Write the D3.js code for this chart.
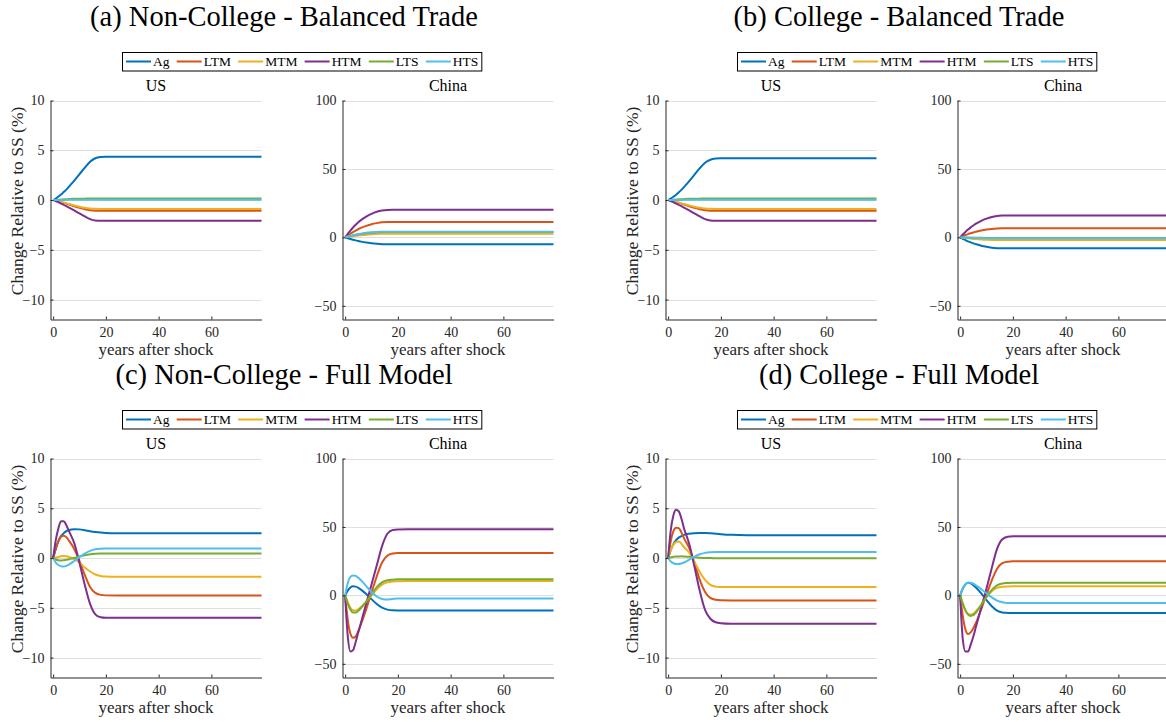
<!DOCTYPE html>
<html>
<head>
<meta charset="utf-8">
<script src="https://cdn.jsdelivr.net/npm/d3@7"></script>
<style>
body { margin: 0; background: #fff; }
text { font-family: "Liberation Serif", "Times New Roman", serif; }
</style>
</head>
<body>
<script>
var width = 1166,
    height = 722;

var years = [0, 1, 2, 3, 4, 5, 6, 8, 10, 12, 14, 16, 18, 20, 24, 30, 79];
var sectors = ['Ag', 'LTM', 'MTM', 'HTM', 'LTS', 'HTS'];
var colors = ['#0072BD', '#D95319', '#EDB120', '#7E2F8E', '#77AC30', '#4DBEEE'];
var panelTitles = ['(a) Non-College - Balanced Trade', '(b) College - Balanced Trade',
                   '(c) Non-College - Full Model', '(d) College - Full Model'];
var countries = ['US', 'China'];
var usTicks = [-10, -5, 0, 5, 10];
var chinaTicks = [-50, 0, 50, 100];
var xTicks = [0, 20, 40, 60];

// one row per sector: Ag, LTM, MTM, HTM, LTS, HTS
var ncBalancedUS = [
  [0, 0.15, 0.35, 0.55, 0.8, 1.05, 1.35, 1.95, 2.6, 3.25, 3.85, 4.2, 4.32, 4.35, 4.36, 4.36, 4.36],
  [0, -0.05, -0.12, -0.2, -0.28, -0.36, -0.45, -0.62, -0.78, -0.92, -1.02, -1.07, -1.08, -1.08, -1.08, -1.08, -1.08],
  [0, -0.05, -0.11, -0.18, -0.25, -0.32, -0.4, -0.54, -0.67, -0.78, -0.85, -0.88, -0.89, -0.89, -0.89, -0.89, -0.89],
  [0, -0.1, -0.22, -0.35, -0.48, -0.62, -0.76, -1.05, -1.35, -1.65, -1.92, -2.06, -2.08, -2.08, -2.08, -2.08, -2.08],
  [0, 0.01, 0.03, 0.05, 0.07, 0.08, 0.1, 0.12, 0.13, 0.14, 0.15, 0.15, 0.15, 0.15, 0.15, 0.15, 0.15],
  [0, 0, 0.01, 0.01, 0.01, 0.02, 0.02, 0.02, 0.02, 0.02, 0.02, 0.02, 0.02, 0.02, 0.02, 0.02, 0.02]
];
var ncBalancedChina = [
  [0, -0.6, -1.2, -1.7, -2.2, -2.7, -3.1, -3.8, -4.3, -4.7, -5.0, -5.1, -5.1, -5.1, -5.1, -5.1, -5.1],
  [0, 1.4, 2.7, 3.9, 5.0, 6.0, 6.9, 8.4, 9.6, 10.4, 11.0, 11.2, 11.2, 11.2, 11.2, 11.2, 11.2],
  [0, 0.3, 0.6, 0.9, 1.1, 1.4, 1.6, 2.0, 2.3, 2.5, 2.7, 2.7, 2.7, 2.7, 2.7, 2.7, 2.7],
  [0, 2.6, 5.0, 7.2, 9.2, 11.0, 12.6, 15.2, 17.2, 18.7, 19.6, 20.0, 20.1, 20.1, 20.1, 20.1, 20.1],
  [0, 0.5, 1.0, 1.4, 1.8, 2.2, 2.5, 3.0, 3.4, 3.7, 3.8, 3.9, 3.9, 3.9, 3.9, 3.9, 3.9],
  [0, 0.6, 1.1, 1.6, 2.0, 2.4, 2.7, 3.3, 3.7, 4.0, 4.1, 4.2, 4.2, 4.2, 4.2, 4.2, 4.2]
];
var cBalancedUS = [
  [0, 0.14, 0.33, 0.53, 0.77, 1.02, 1.3, 1.9, 2.55, 3.2, 3.75, 4.05, 4.17, 4.2, 4.2, 4.2, 4.2],
  [0, -0.05, -0.12, -0.2, -0.28, -0.36, -0.45, -0.62, -0.78, -0.92, -1.02, -1.07, -1.08, -1.08, -1.08, -1.08, -1.08],
  [0, -0.05, -0.11, -0.18, -0.25, -0.32, -0.4, -0.54, -0.67, -0.78, -0.85, -0.88, -0.89, -0.89, -0.89, -0.89, -0.89],
  [0, -0.1, -0.22, -0.35, -0.48, -0.62, -0.76, -1.05, -1.35, -1.65, -1.92, -2.05, -2.07, -2.07, -2.07, -2.07, -2.07],
  [0, 0.01, 0.03, 0.05, 0.07, 0.08, 0.1, 0.12, 0.13, 0.14, 0.15, 0.15, 0.15, 0.15, 0.15, 0.15, 0.15],
  [0, 0, 0, 0.01, 0.01, 0.01, 0.02, 0.02, 0.02, 0.02, 0.02, 0.02, 0.02, 0.02, 0.02, 0.02, 0.02]
];
var cBalancedChina = [
  [0, -1.0, -2.0, -2.9, -3.7, -4.4, -5.0, -6.1, -6.9, -7.5, -7.9, -8.0, -8.0, -8.0, -8.0, -8.0, -8.0],
  [0, 0.9, 1.7, 2.4, 3.0, 3.6, 4.1, 5.0, 5.7, 6.2, 6.5, 6.6, 6.6, 6.6, 6.6, 6.6, 6.6],
  [0, -0.3, -0.5, -0.7, -0.9, -1.1, -1.2, -1.5, -1.7, -1.85, -1.95, -2.0, -2.0, -2.0, -2.0, -2.0, -2.0],
  [0, 2.1, 4.0, 5.7, 7.3, 8.7, 10.0, 12.1, 13.7, 14.9, 15.6, 15.9, 16.0, 16.0, 16.0, 16.0, 16.0],
  [0, -0.05, -0.1, -0.15, -0.2, -0.25, -0.3, -0.35, -0.4, -0.45, -0.5, -0.5, -0.5, -0.5, -0.5, -0.5, -0.5],
  [0, -0.1, -0.2, -0.25, -0.3, -0.35, -0.4, -0.5, -0.55, -0.6, -0.65, -0.7, -0.7, -0.7, -0.7, -0.7, -0.7]
];
var ncFullUS = [
  [0, 0.9, 1.7, 2.2, 2.5, 2.7, 2.82, 2.9, 2.88, 2.8, 2.7, 2.62, 2.56, 2.52, 2.49, 2.48, 2.48],
  [0, 1.0, 1.7, 2.15, 2.25, 2.1, 1.75, 0.9, -0.3, -1.7, -2.9, -3.5, -3.7, -3.75, -3.76, -3.76, -3.76],
  [0, 0.05, 0.12, 0.18, 0.2, 0.17, 0.1, -0.1, -0.45, -0.95, -1.35, -1.65, -1.8, -1.86, -1.88, -1.88, -1.88],
  [0, 1.8, 3.0, 3.7, 3.7, 3.3, 2.7, 1.5, -0.5, -2.7, -4.6, -5.65, -5.95, -6.0, -6.0, -6.0, -6.0],
  [0, -0.15, -0.22, -0.25, -0.22, -0.18, -0.12, 0.0, 0.15, 0.28, 0.38, 0.43, 0.45, 0.45, 0.45, 0.45, 0.45],
  [0, -0.45, -0.7, -0.82, -0.85, -0.78, -0.65, -0.3, 0.1, 0.45, 0.72, 0.88, 0.93, 0.95, 0.95, 0.95, 0.95]
];
var ncFullChina = [
  [0, 3.5, 5.8, 6.6, 6.4, 5.5, 4.2, 1.0, -2.8, -6.3, -9.0, -10.4, -10.9, -11.0, -11.0, -11.0, -11.0],
  [0, -18, -28, -31, -30, -26, -21, -10, 2, 14, 24, 29, 30.6, 31, 31, 31, 31],
  [0, -5, -9, -10.8, -11, -10, -8.5, -4.5, 0, 4.5, 7.8, 9.5, 10.2, 10.4, 10.5, 10.5, 10.5],
  [0, -30, -41, -40, -34, -27, -20, -6, 8, 22, 36, 45, 47.8, 48.2, 48.3, 48.3, 48.3],
  [0, -6, -10.5, -12.5, -12.5, -11.2, -9.2, -4.5, 0.8, 6, 9.5, 11, 11.5, 11.7, 11.7, 11.7, 11.7],
  [0, 9, 13.5, 14.6, 14.2, 12.8, 11, 6.8, 2.5, -0.8, -2.6, -3, -2.6, -2.3, -2.2, -2.2, -2.2]
];
var cFullUS = [
  [0, 0.8, 1.4, 1.8, 2.05, 2.2, 2.33, 2.45, 2.5, 2.52, 2.52, 2.5, 2.45, 2.4, 2.33, 2.3, 2.28],
  [0, 1.7, 2.7, 3.05, 3.0, 2.6, 2.0, 1.0, -0.5, -2.2, -3.4, -4.0, -4.2, -4.25, -4.26, -4.26, -4.26],
  [0, 0.8, 1.35, 1.62, 1.65, 1.45, 1.1, 0.55, -0.4, -1.4, -2.2, -2.7, -2.87, -2.92, -2.92, -2.92, -2.92],
  [0, 2.8, 4.3, 4.85, 4.7, 4.0, 3.0, 1.4, -0.9, -3.3, -5.2, -6.1, -6.45, -6.55, -6.6, -6.6, -6.6],
  [0, 0.08, 0.12, 0.15, 0.16, 0.17, 0.16, 0.13, 0.08, 0.04, 0.01, 0, -0.02, -0.03, -0.03, -0.03, -0.03],
  [0, -0.35, -0.52, -0.6, -0.6, -0.55, -0.45, -0.15, 0.15, 0.38, 0.52, 0.58, 0.6, 0.6, 0.6, 0.6, 0.6]
];
var cFullChina = [
  [0, 5, 8, 9.2, 8.8, 7.5, 5.8, 1.5, -3.5, -8, -11.2, -12.5, -12.8, -12.9, -12.9, -12.9, -12.9],
  [0, -15, -25, -28.3, -27, -24, -20, -10, 0.5, 11, 19.5, 23.5, 24.6, 24.9, 24.9, 24.9, 24.9],
  [0, -6, -11, -13.5, -14, -13.3, -11.5, -6.8, -1.5, 3, 5.5, 6.3, 6.5, 6.6, 6.6, 6.6, 6.6],
  [0, -32, -41, -41, -36, -30, -23, -9, 5, 20, 34, 41, 42.8, 43.2, 43.2, 43.2, 43.2],
  [0, -6, -11, -14, -15, -14.5, -12.5, -7, -1, 4, 7.3, 8.7, 9.1, 9.3, 9.3, 9.3, 9.3],
  [0, 5.2, 8.2, 9.3, 9.2, 8.5, 7.3, 4.5, 1.5, -1.5, -3.8, -5, -5.5, -5.6, -5.6, -5.6, -5.6]
];

var panels = [
  {title: panelTitles[0], col: 0, row: 0, data: [ncBalancedUS, ncBalancedChina]},
  {title: panelTitles[1], col: 1, row: 0, data: [cBalancedUS, cBalancedChina]},
  {title: panelTitles[2], col: 0, row: 1, data: [ncFullUS, ncFullChina]},
  {title: panelTitles[3], col: 1, row: 1, data: [cFullUS, cFullChina]}
];

var colX = [0, 615],
    rowY = [0, 358];
var plotLeft = [50.5, 342.5],
    plotW = 211,
    plotTop = 100.5,
    plotBottom = 319.5;
var axisColor = '#262626';

var svg = d3.select('body')
  .append('svg')
  .attr('width', width)
  .attr('height', height);

svg.append('rect').attr('width', width).attr('height', height).attr('fill', '#fff');

panels.forEach(function(p) {
  var g = svg.append('g')
    .attr('transform', 'translate(' + colX[p.col] + ',' + rowY[p.row] + ')');

  g.append('text')
    .attr('x', 284)
    .attr('y', 26)
    .attr('text-anchor', 'middle')
    .style('font-size', '28.5px')
    .attr('fill', '#000')
    .text(p.title);

  drawLegend(g);

  p.data.forEach(function(series, k) {
    drawSubplot(g, k, series);
  });
});

function drawLegend(g) {
  var lg = g.append('g');
  var box = lg.append('rect')
    .attr('x', 122.5)
    .attr('y', 52.5)
    .attr('height', 18.5)
    .attr('fill', '#fff')
    .attr('stroke', '#000')
    .attr('stroke-width', 1);
  var cx = 126;
  sectors.forEach(function(s, i) {
    lg.append('line')
      .attr('x1', cx).attr('x2', cx + 25)
      .attr('y1', 61.5).attr('y2', 61.5)
      .attr('stroke', colors[i])
      .attr('stroke-width', 2);
    var t = lg.append('text')
      .attr('x', cx + 27)
      .attr('y', 66)
      .style('font-size', '13.5px')
      .attr('fill', '#000')
      .text(s);
    cx += 27 + t.node().getComputedTextLength() + 7.2;
  });
  box.attr('width', cx - 7.2 + 3.5 - 122.5);
}

function drawSubplot(g, k, series) {
  var x0 = plotLeft[k];
  var ticks = k === 0 ? usTicks : chinaTicks;

  var x = d3.scaleLinear()
    .domain([-1, 79])
    .range([x0, x0 + plotW]);
  var y = d3.scaleLinear()
    .domain(k === 0 ? [-12, 10] : [-60, 100])
    .range([plotBottom, plotTop]);

  // horizontal grid
  g.append('g').selectAll('line')
    .data(ticks)
    .enter()
    .append('line')
    .attr('x1', x0).attr('x2', x0 + plotW)
    .attr('y1', function(d) { return Math.round(y(d)) + 0.5; })
    .attr('y2', function(d) { return Math.round(y(d)) + 0.5; })
    .attr('stroke', '#dfdfdf')
    .attr('stroke-width', 1);

  var line = d3.line()
    .x(function(d, i) { return x(years[i]); })
    .y(function(d) { return y(d); })
    .curve(d3.curveMonotoneX);

  g.append('g').selectAll('path')
    .data(series)
    .enter()
    .append('path')
    .attr('d', line)
    .attr('fill', 'none')
    .attr('stroke', function(d, i) { return colors[i]; })
    .attr('stroke-width', 2);

  var yAxis = g.append('g')
    .attr('transform', 'translate(' + x0 + ',0)')
    .call(d3.axisLeft(y).tickValues(ticks).tickSizeInner(-3).tickSizeOuter(0).tickPadding(6));
  var xAxis = g.append('g')
    .attr('transform', 'translate(0,' + plotBottom + ')')
    .call(d3.axisBottom(x).tickValues(xTicks).tickSizeInner(-3).tickSizeOuter(0).tickPadding(7.5));

  [yAxis, xAxis].forEach(function(a) {
    a.attr('font-family', null).attr('font-size', null);
    a.select('.domain').attr('stroke', axisColor);
    a.selectAll('.tick line').attr('stroke', axisColor);
    a.selectAll('.tick text').attr('fill', axisColor).style('font-size', '14px');
  });

  g.append('text')
    .attr('x', x0 + plotW / 2)
    .attr('y', 90.5)
    .attr('text-anchor', 'middle')
    .style('font-size', '16px')
    .attr('fill', '#000')
    .text(countries[k]);

  g.append('text')
    .attr('x', x0 + plotW / 2)
    .attr('y', 354.5)
    .attr('text-anchor', 'middle')
    .style('font-size', '17px')
    .attr('fill', axisColor)
    .text('years after shock');

  if (k === 0) {
    g.append('text')
      .attr('transform', 'translate(23,201) rotate(-90)')
      .attr('text-anchor', 'middle')
      .style('font-size', '17.5px')
      .attr('fill', axisColor)
      .text('Change Relative to SS (%)');
  }
}
</script>
</body>
</html>
